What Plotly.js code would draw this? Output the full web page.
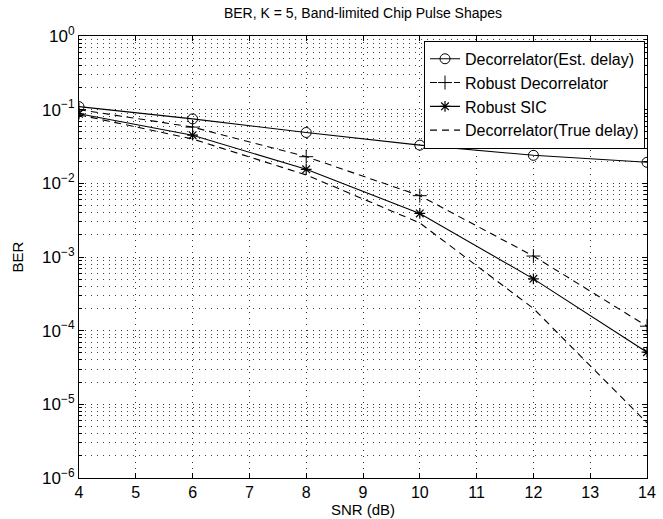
<!DOCTYPE html>
<html>
<head>
<meta charset="utf-8">
<script src="https://cdn.plot.ly/plotly-3.0.1.min.js"></script>
<style>html,body{margin:0;padding:0;background:#fff;}#chart{width:663px;height:519px;}</style>
</head>
<body>
<div id="chart"></div>
<script>
var snr = [4, 6, 8, 10, 12, 14];
var decorrEst = [0.11, 0.075, 0.049, 0.033, 0.024, 0.0193];
var robustDecorr = [0.10, 0.058, 0.023, 0.0068, 0.00103, 0.000115];
var robustSIC = [0.088, 0.045, 0.0155, 0.0039, 0.000505, 0.000051];
var decorrTrue = [0.085, 0.040, 0.013, 0.0029, 0.00020, 0.0000056];

var yTickVals = [1, 0.1, 0.01, 0.001, 0.0001, 0.00001, 0.000001];
var yTickText = ['10<sup>0</sup>', '10<sup>−1</sup>', '10<sup>−2</sup>', '10<sup>−3</sup>', '10<sup>−4</sup>', '10<sup>−5</sup>', '10<sup>−6</sup>'];
var xTickVals = [4, 5, 6, 7, 8, 9, 10, 11, 12, 13, 14];

var minorVals = [];
for (var e = -6; e < 0; e++) {
  for (var m = 2; m <= 9; m++) minorVals.push(m * Math.pow(10, e));
}

var lineW = 1.1;
var dashPat = '7px,5px';
var traces = [
  {x: snr, y: decorrEst, name: 'Decorrelator(Est. delay)', mode: 'lines+markers',
   line: {color: '#000', width: lineW}, marker: {symbol: 'circle-open', size: 10, color: '#000', line: {width: 1}}},
  {x: snr, y: robustDecorr, name: 'Robust Decorrelator', mode: 'lines+markers',
   line: {color: '#000', width: lineW, dash: dashPat}, marker: {symbol: 'cross-thin-open', size: 10, color: '#000', line: {width: 1}}},
  {x: snr, y: robustSIC, name: 'Robust SIC', mode: 'lines+markers',
   line: {color: '#000', width: lineW}, marker: {symbol: 'asterisk-open', size: 9, color: '#000', line: {width: 1.2}}},
  {x: snr, y: decorrTrue, name: 'Decorrelator(True delay)', mode: 'lines',
   line: {color: '#000', width: lineW, dash: dashPat}}
];

var font = 'Liberation Sans, Arial, sans-serif';
var gridDash = '1px,5px';
var layout = {
  width: 663, height: 519,
  margin: {l: 79, r: 16, t: 36, b: 41},
  paper_bgcolor: '#fff', plot_bgcolor: '#fff',
  font: {family: font, size: 15, color: '#000'},
  title: {text: 'BER, K = 5, Band-limited Chip Pulse Shapes', font: {family: font, size: 14, color: '#000'},
          x: 0.5, xref: 'paper', y: 0.975, yref: 'container', yanchor: 'middle'},
  xaxis: {
    range: [4, 14], tickvals: xTickVals, ticktext: xTickVals.map(String),
    showline: true, mirror: 'ticks', linecolor: '#000', linewidth: 1,
    ticks: 'inside', ticklen: 5, tickcolor: '#000',
    showgrid: true, gridcolor: '#333', griddash: gridDash, gridwidth: 1,
    zeroline: false, tickfont: {size: 16},
    title: {text: 'SNR (dB)', font: {size: 15}, standoff: 0}
  },
  yaxis: {
    type: 'log', range: [-6, 0], tickvals: yTickVals, ticktext: yTickText,
    showline: true, mirror: 'ticks', linecolor: '#000', linewidth: 1,
    ticks: 'inside', ticklen: 5, tickcolor: '#000',
    showgrid: true, gridcolor: '#333', griddash: gridDash, gridwidth: 1,
    zeroline: false, tickfont: {size: 17},
    minor: {tickvals: minorVals, ticks: 'inside', ticklen: 3, tickcolor: '#000',
            showgrid: true, gridcolor: '#444', griddash: gridDash, gridwidth: 1},
    title: {text: 'BER', font: {size: 15}, standoff: 14}
  },
  legend: {
    x: 0.9965, y: 0.989, xanchor: 'right', yanchor: 'top',
    bgcolor: '#fff', bordercolor: '#000', borderwidth: 1,
    font: {family: font, size: 16, color: '#000'},
    tracegroupgap: 0, itemwidth: 30
  },
  showlegend: true
};

Plotly.newPlot('chart', traces, layout, {displayModeBar: false, staticPlot: true});
</script>
</body>
</html>
